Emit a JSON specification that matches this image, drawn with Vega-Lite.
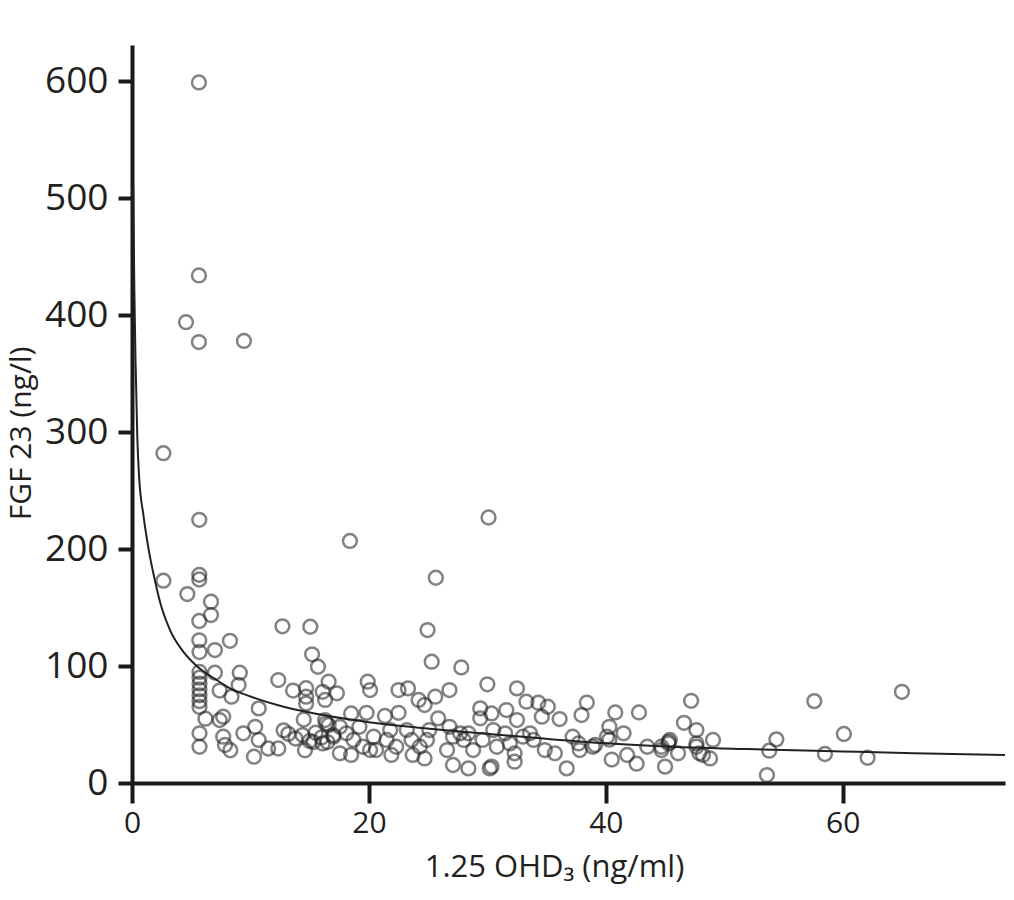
{
  "$schema": "https://vega.github.io/schema/vega-lite/v6.json",
  "autosize": "none",
  "width": 873,
  "height": 738,
  "padding": {"left": 132, "top": 45, "right": 9, "bottom": 117},
  "background": "white",
  "config": {
    "font": "Open Sans",
    "view": {"stroke": null},
    "axis": {
      "grid": false,
      "domainColor": "#1a1a1a",
      "domainWidth": 4,
      "tickColor": "#1a1a1a",
      "tickWidth": 4,
      "labelColor": "#231f20",
      "titleColor": "#231f20",
      "labelFont": "Open Sans",
      "titleFont": "Open Sans",
      "titleFontWeight": "normal"
    }
  },
  "datasets": {
    "pts": [
      {"x":5.65,"y":599},{"x":5.65,"y":434},{"x":4.56,"y":394},{"x":5.65,"y":377},{"x":9.45,"y":378},
      {"x":2.65,"y":282},{"x":5.68,"y":225},{"x":18.4,"y":207},{"x":30.1,"y":227},{"x":2.65,"y":173},
      {"x":5.68,"y":178},{"x":5.68,"y":174},{"x":25.65,"y":175.5},{"x":4.67,"y":161.5},{"x":6.67,"y":155},
      {"x":6.67,"y":143.6},{"x":5.68,"y":138.5},{"x":12.7,"y":134},{"x":15.05,"y":133.6},{"x":24.95,"y":130.8},
      {"x":5.68,"y":122},{"x":8.27,"y":121.6},
      {"x":5.7,"y":112},{"x":7.0,"y":113.7},{"x":15.2,"y":110},{"x":15.7,"y":99.4},{"x":9.1,"y":94.3},{"x":7.0,"y":94.3},
      {"x":5.7,"y":95},{"x":5.7,"y":90},{"x":5.7,"y":85},{"x":5.7,"y":80},{"x":5.7,"y":75},{"x":5.7,"y":70},{"x":5.7,"y":65},
      {"x":12.35,"y":88},{"x":13.6,"y":79},{"x":14.7,"y":81},{"x":14.7,"y":73.8},{"x":14.7,"y":68},{"x":16.1,"y":78},
      {"x":16.3,"y":71},{"x":7.4,"y":79},{"x":8.4,"y":73.8},{"x":9.0,"y":83.8},{"x":10.7,"y":63.8},{"x":6.2,"y":55},
      {"x":7.7,"y":56.7},{"x":7.4,"y":53.8},{"x":14.5,"y":54.3},{"x":16.4,"y":51},{"x":5.7,"y":42.5},{"x":5.7,"y":31},
      {"x":7.7,"y":39.6},{"x":7.85,"y":32.5},{"x":8.3,"y":28},{"x":9.4,"y":42.5},{"x":10.4,"y":48},{"x":10.7,"y":36.8},
      {"x":10.3,"y":22.5},{"x":11.5,"y":29.5},{"x":12.35,"y":29.5},{"x":12.8,"y":45},{"x":13.2,"y":42},{"x":13.8,"y":38},
      {"x":14.4,"y":41},{"x":15.0,"y":36},{"x":15.5,"y":43},{"x":16.0,"y":39},{"x":16.5,"y":35},{"x":17.0,"y":41},
      {"x":14.6,"y":28},{"x":15.3,"y":35},
      {"x":25.3,"y":103.7},{"x":27.8,"y":98.8},{"x":16.6,"y":86.6},{"x":17.3,"y":76.7},{"x":19.9,"y":86.6},{"x":20.1,"y":79.5},
      {"x":22.5,"y":79.5},{"x":23.3,"y":80.9},{"x":24.2,"y":71},{"x":24.7,"y":66.7},{"x":25.6,"y":73.8},{"x":26.8,"y":79.5},
      {"x":25.85,"y":55.3},{"x":18.5,"y":59.5},{"x":19.8,"y":60},{"x":21.35,"y":57.3},{"x":22.5,"y":60},{"x":16.6,"y":49.6},
      {"x":17.55,"y":48},{"x":17.0,"y":39.6},{"x":18.1,"y":42.5},{"x":18.7,"y":36.8},{"x":19.2,"y":48},{"x":19.5,"y":31},
      {"x":20.4,"y":39.6},{"x":20.6,"y":28.2},{"x":21.5,"y":36.8},{"x":21.8,"y":45.3},{"x":22.3,"y":31},{"x":23.2,"y":45.3},
      {"x":23.6,"y":36.8},{"x":24.3,"y":31},{"x":24.9,"y":36.8},{"x":25.1,"y":45.3},{"x":17.55,"y":25.4},{"x":18.5,"y":24},
      {"x":20.1,"y":28.2},{"x":21.9,"y":24},{"x":23.7,"y":24},{"x":24.7,"y":21},{"x":26.8,"y":48},{"x":27.1,"y":39.6},
      {"x":26.6,"y":28.2},{"x":27.1,"y":15.4},{"x":28.4,"y":12.5},{"x":28.0,"y":36.8},{"x":16.1,"y":33.8},{"x":16.3,"y":53.8},
      {"x":30.0,"y":84.4},{"x":29.4,"y":63.8},{"x":30.35,"y":59.5},{"x":28.4,"y":42.5},{"x":30.2,"y":12.5},{"x":32.5,"y":80.9},
      {"x":33.3,"y":69.5},{"x":34.3,"y":68.7},{"x":35.1,"y":65.2},{"x":34.6,"y":56.7},{"x":36.1,"y":54.7},{"x":38.4,"y":68.8},
      {"x":37.95,"y":58.1},{"x":40.8,"y":60.3},{"x":42.8,"y":60.3},{"x":29.4,"y":55.3},{"x":31.6,"y":62.4},{"x":32.5,"y":53.8},
      {"x":28.8,"y":28.2},{"x":29.6,"y":36.8},{"x":30.5,"y":45.3},{"x":30.8,"y":31},{"x":31.5,"y":42.5},{"x":31.9,"y":33.8},
      {"x":32.3,"y":25.4},{"x":33.0,"y":39.6},{"x":33.6,"y":42.5},{"x":33.9,"y":36.8},{"x":34.85,"y":28.2},{"x":35.7,"y":25.4},
      {"x":37.2,"y":39.6},{"x":37.7,"y":33.8},{"x":37.8,"y":28.2},{"x":38.9,"y":31},{"x":40.1,"y":39.6},{"x":30.35,"y":14},
      {"x":32.3,"y":18.2},{"x":36.7,"y":12.5},{"x":40.5,"y":20},{"x":27.7,"y":42.5},
      {"x":46.6,"y":51.5},{"x":40.3,"y":48},{"x":41.5,"y":42.5},{"x":41.8,"y":24},{"x":42.6,"y":16.5},{"x":45.0,"y":14},
      {"x":43.5,"y":31},{"x":44.7,"y":31},{"x":45.3,"y":35.3},{"x":39.1,"y":32.5},{"x":40.3,"y":37},{"x":47.2,"y":70.3},
      {"x":47.65,"y":45.3},{"x":49.05,"y":36.8},{"x":47.65,"y":33.8},{"x":45.4,"y":36.8},{"x":44.7,"y":28.2},{"x":46.1,"y":25.4},
      {"x":47.9,"y":25.4},{"x":48.8,"y":21},{"x":48.2,"y":24},{"x":45.3,"y":33.8},{"x":47.65,"y":31},
      {"x":57.6,"y":70},{"x":65.0,"y":78},{"x":60.1,"y":41.9},{"x":54.4,"y":37.3},{"x":53.8,"y":27.6},{"x":58.5,"y":24.8},
      {"x":62.1,"y":21.6},{"x":53.6,"y":6.8}
    ],
    "fit": [
      {"x":0.1,"y":510},{"x":0.2,"y":420},{"x":0.3,"y":360},{"x":0.45,"y":295},{"x":0.6,"y":262},{"x":0.95,"y":230},
      {"x":1.4,"y":200},{"x":1.94,"y":173},{"x":2.5,"y":150},{"x":3.2,"y":131},{"x":4.2,"y":114},{"x":5.46,"y":100},
      {"x":7,"y":89},{"x":8.27,"y":81},{"x":10,"y":74},{"x":12.5,"y":66},{"x":16.7,"y":57},{"x":20,"y":52},
      {"x":24,"y":47.5},{"x":27.7,"y":44},{"x":34.7,"y":38},{"x":40,"y":34},{"x":44.6,"y":31.5},{"x":52,"y":29},
      {"x":60,"y":27},{"x":66,"y":25.5},{"x":73.7,"y":24}
    ]
  },
  "layer": [
    {
      "data": {"name": "pts"},
      "mark": {"type": "point", "shape": "circle", "filled": false, "size": 190, "stroke": "#222222", "strokeWidth": 2.5, "strokeOpacity": 0.8},
      "encoding": {
        "x": {"field": "x", "type": "quantitative",
              "scale": {"domain": [0, 73.7], "nice": false, "zero": false},
              "axis": {"values": [0, 20, 40, 60], "title": "1.25 OHD₃ (ng/ml)", "tickSize": 20, "labelPadding": 5,
                       "labelFontSize": 30, "titleFontSize": 31, "titlePadding": 14, "titleX": 422, "labelFlush": false}},
        "y": {"field": "y", "type": "quantitative",
              "scale": {"domain": [0, 631], "nice": false, "zero": false},
              "axis": {"values": [0, 100, 200, 300, 400, 500, 600], "title": "FGF 23 (ng/l)", "tickSize": 14, "labelPadding": 10,
                       "labelFontSize": 37, "titleFontSize": 30, "titlePadding": 8, "titleY": 388, "labelFlush": false}}
      }
    },
    {
      "data": {"name": "fit"},
      "mark": {"type": "line", "color": "#222222", "strokeWidth": 2, "interpolate": "monotone", "clip": true},
      "encoding": {
        "x": {"field": "x", "type": "quantitative"},
        "y": {"field": "y", "type": "quantitative"}
      }
    }
  ]
}
